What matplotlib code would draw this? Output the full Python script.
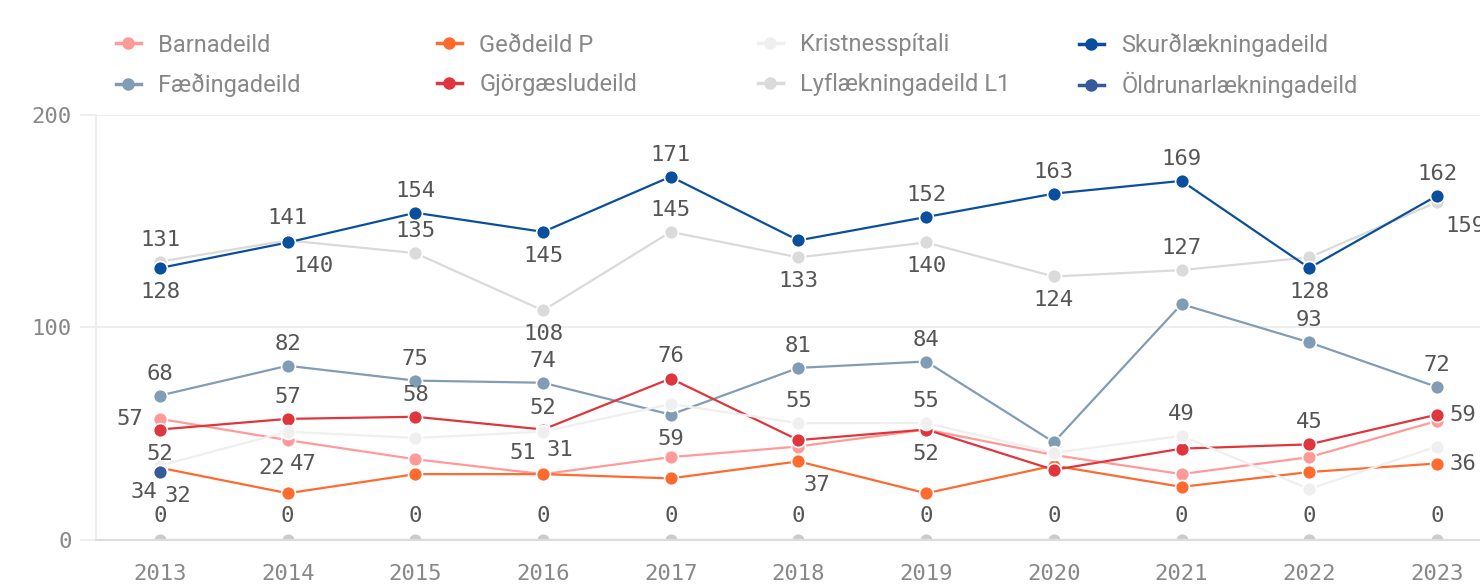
import numpy as np
import matplotlib
matplotlib.use("Agg")
import matplotlib.pyplot as plt
from matplotlib.lines import Line2D

# Gögn lesin af myndinni
years = [2013, 2014, 2015, 2016, 2017, 2018, 2019, 2020, 2021, 2022, 2023]
barnadeild = [57, 47, 38, 31, 39, 44, 52, 40, 31, 39, 56]
faedingadeild = [68, 82, 75, 74, 59, 81, 84, 46, 111, 93, 72]
geddeild_p = [34, 22, 31, 31, 29, 37, 22, 35, 25, 32, 36]
gjorgaesludeild = [52, 57, 58, 52, 76, 47, 52, 33, 43, 45, 59]
kristnesspitali = [35, 51, 48, 51, 64, 55, 55, 41, 49, 24, 44]
lyflaekningadeild = [131, 141, 135, 108, 145, 133, 140, 124, 127, 133, 159]
skurdlaekningadeild = [128, 140, 154, 145, 171, 141, 152, 163, 169, 128, 162]
oldrunarlaekningadeild = [32, None, None, None, None, None, None, None, None, None, None]
annad = [0, 0, 0, 0, 0, 0, 0, 0, 0, 0, 0]

series = [
    ("Barnadeild", barnadeild, "#ff9a98"),
    ("Fæðingadeild", faedingadeild, "#819db5"),
    ("Geðdeild P", geddeild_p, "#ff6a2f"),
    ("Gjörgæsludeild", gjorgaesludeild, "#e0353c"),
    ("Kristnesspítali", kristnesspitali, "#efefef"),
    ("Lyflækningadeild L1", lyflaekningadeild, "#dadada"),
    ("Skurðlækningadeild", skurdlaekningadeild, "#0a4f9e"),
    ("Öldrunarlækningadeild", oldrunarlaekningadeild, "#355a9a"),
]

# hvar merkimiðar sjást: (röð, ár, staðsetning)
U, D = (0, 22), (0, -24)
labels = [
    (5, 2013, U), (6, 2013, D), (1, 2013, U), (0, 2013, (-30, 0)), (3, 2013, D),
    (2, 2013, (-16, -24)), (7, 2013, (18, -24)),
    (5, 2014, U), (6, 2014, (26, -24)), (1, 2014, U), (3, 2014, U),
    (2, 2014, (-16, 25)), (0, 2014, (16, -24)),
    (6, 2015, U), (5, 2015, U), (1, 2015, U), (3, 2015, U),
    (6, 2016, D), (5, 2016, D), (1, 2016, U), (3, 2016, U),
    (4, 2016, (-20, -21)), (2, 2016, (17, 24)),
    (6, 2017, U), (5, 2017, U), (3, 2017, U), (1, 2017, D),
    (5, 2018, D), (1, 2018, U), (4, 2018, U), (2, 2018, (18, -24)),
    (6, 2019, U), (5, 2019, D), (1, 2019, U), (4, 2019, U), (3, 2019, D),
    (6, 2020, U), (5, 2020, D),
    (6, 2021, U), (5, 2021, U), (4, 2021, U),
    (6, 2022, D), (1, 2022, U), (3, 2022, U),
    (6, 2023, U), (5, 2023, (28, -24)), (1, 2023, U),
    (3, 2023, (26, 0)), (2, 2023, (26, 0)),
]

W, H = 1480, 586
fig = plt.figure(figsize=(W / 100, H / 100), dpi=100)
ax = fig.add_axes([96 / W, (H - 540) / H, 1 - 96 / W, (540 - 115) / H])

mono = "DejaVu Sans Mono"
lw, ms = 1.6, 10

ax.plot(years, annad, color="#cccccc", lw=lw, marker="o", ms=ms,
        mec="white", mew=1.2, zorder=2)
for i, (name, vals, col) in enumerate(series):
    y = np.array([np.nan if v is None else v for v in vals], dtype=float)
    ax.plot(years, y, color=col, lw=lw, marker="o", ms=ms,
            mec="white", mew=1.2, zorder=3 + i)

for idx, yr, (dx, dy) in labels:
    v = series[idx][1][years.index(yr)]
    ax.annotate(str(v), (yr, v), xytext=(dx, dy), textcoords="offset pixels",
                ha="center", va="center", fontsize=16, family=mono,
                color="#555555", annotation_clip=False, zorder=20)
for yr, v in zip(years, annad):
    ax.annotate(str(v), (yr, v), xytext=(0, 24), textcoords="offset pixels",
                ha="center", va="center", fontsize=16, family=mono,
                color="#555555", zorder=20)

ax.set_xlim(2012.499, 2023.337)
ax.set_ylim(0, 200)
ax.set_xticks(years)
ax.set_yticks([0, 100, 200])
ax.grid(axis="y", color="#eeeeee", lw=1.5, zorder=0)
for s in ["top", "right"]:
    ax.spines[s].set_visible(False)
ax.spines["left"].set_color("#eeeeee")
ax.spines["left"].set_linewidth(1.5)
ax.spines["bottom"].set_color("#dddddd")
ax.spines["bottom"].set_linewidth(1.5)
ax.tick_params(axis="y", length=11.5, width=1.5, color="#eeeeee", pad=6,
               labelsize=16, labelcolor="#888888")
ax.tick_params(axis="x", length=0, pad=17, labelsize=16, labelcolor="#888888")
for t in ax.get_xticklabels() + ax.get_yticklabels():
    t.set_family(mono)

# skýringar: 4 dálkar, 2 raðir
for i, (name, vals, col) in enumerate(series):
    c, r = i // 2, i % 2
    h = Line2D([], [], color=col, lw=2.5, marker="o", ms=8, mec=col, label=name)
    leg = fig.legend(handles=[h], loc="center left",
                     bbox_to_anchor=((104 + 321 * c) / W, 1 - (45 + 40 * r) / H),
                     frameon=False, handlelength=1.05, handletextpad=0.75,
                     borderpad=0, prop={"family": "Roboto", "size": 17})
    leg.get_texts()[0].set_color("#888888")

fig.savefig("out.png", dpi=100)
